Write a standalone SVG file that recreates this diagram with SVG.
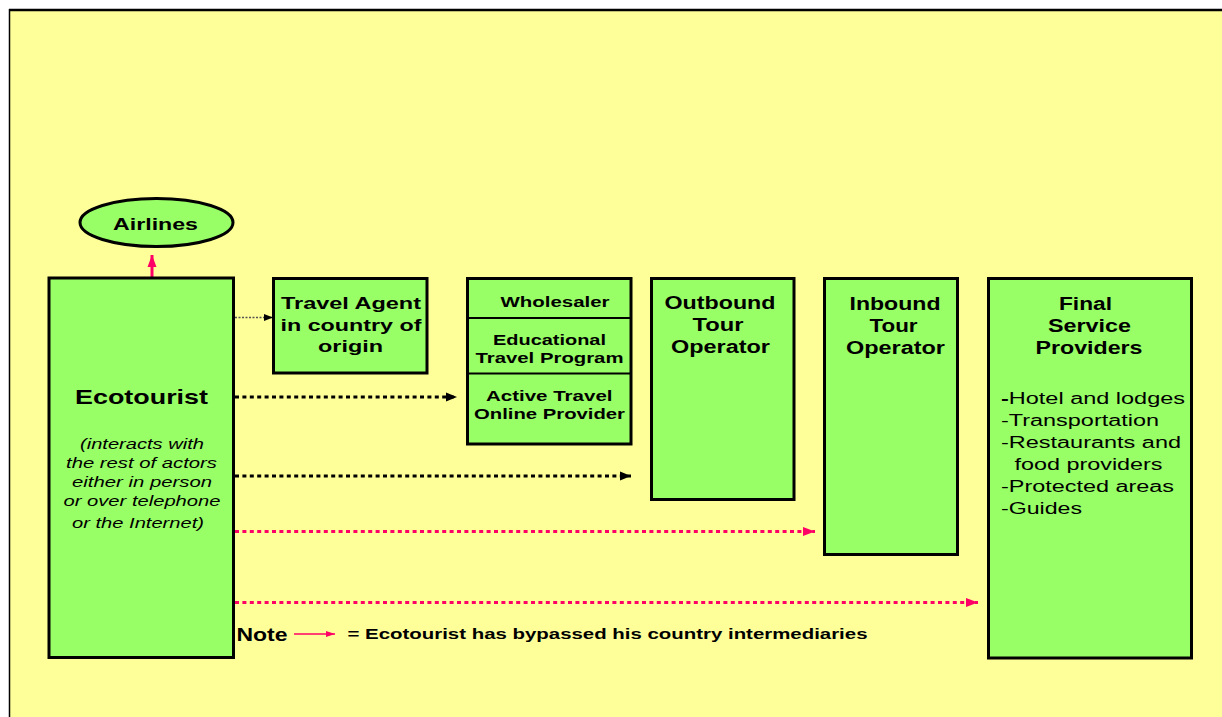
<svg xmlns="http://www.w3.org/2000/svg" width="1222" height="717" viewBox="0 0 1222 717">
<style>
.box{fill:#99FF66;stroke:#000;stroke-width:3}
.div{stroke:#000;stroke-width:2}
.b{font-family:"Liberation Sans",Arial,sans-serif;font-weight:bold;fill:#000}
.r{font-family:"Liberation Sans",Arial,sans-serif;fill:#000}
.i{font-family:"Liberation Sans",Arial,sans-serif;font-style:italic;fill:#000}
.dk{fill:none;stroke:#000;stroke-width:3;stroke-dasharray:4 3.4}
.dp{fill:none;stroke:#FF0066;stroke-width:3;stroke-dasharray:4 3.4}
</style>
<defs>
<marker id="ak" markerUnits="userSpaceOnUse" markerWidth="11" markerHeight="10" refX="11" refY="5" orient="auto"><path d="M0,0.5 L11,5 L0,9.5 z" fill="#000"/></marker>
<marker id="ap" markerUnits="userSpaceOnUse" markerWidth="12" markerHeight="10" refX="12" refY="5" orient="auto"><path d="M0,0.5 L12,5 L0,9.5 z" fill="#FF0066"/></marker>
<marker id="aks" markerUnits="userSpaceOnUse" markerWidth="9" markerHeight="8" refX="9" refY="4" orient="auto"><path d="M0,0.5 L9,4 L0,7.5 z" fill="#000"/></marker>
<marker id="aps" markerUnits="userSpaceOnUse" markerWidth="9" markerHeight="8" refX="9" refY="4" orient="auto"><path d="M0,1 L9,4 L0,7 z" fill="#FF0066"/></marker>
</defs>
<rect x="0" y="0" width="1222" height="717" fill="#fff"/>
<rect x="9.5" y="10" width="1230" height="720" fill="#FFFF99"/>
<line x1="9" y1="10" x2="1222" y2="10" stroke="#000" stroke-width="2.5"/>
<line x1="9.5" y1="9" x2="9.5" y2="717" stroke="#000" stroke-width="1.5"/>

<g id="connectors">
<line x1="152" y1="278" x2="152" y2="255" stroke="#FF0066" stroke-width="3" marker-end="url(#ap)"/>
<line x1="235" y1="317.5" x2="273" y2="317.5" stroke="#555" stroke-width="1.5" stroke-dasharray="2 1.5" marker-end="url(#aks)"/>
<line x1="235" y1="397" x2="457" y2="397" class="dk" marker-end="url(#ak)"/>
<line x1="235" y1="476" x2="631" y2="476" class="dk" marker-end="url(#ak)"/>
<line x1="235" y1="531.5" x2="815" y2="531.5" class="dp" marker-end="url(#ap)"/>
<line x1="235" y1="602.5" x2="978" y2="602.5" class="dp" marker-end="url(#ap)"/>
</g>

<g id="airlines">
<ellipse cx="156.5" cy="222.5" rx="76.5" ry="24" class="box"/>
<text x="113" y="230" class="b" font-size="17" textLength="85" lengthAdjust="spacingAndGlyphs">Airlines</text>
</g>

<g id="ecotourist">
<rect x="49" y="278" width="184.5" height="379.5" class="box"/>
<text x="75" y="404" class="b" font-size="21" textLength="133" lengthAdjust="spacingAndGlyphs">Ecotourist</text>
<text x="80" y="449" class="i" font-size="15" textLength="124" lengthAdjust="spacingAndGlyphs">(interacts with</text>
<text x="66" y="468" class="i" font-size="15" textLength="151" lengthAdjust="spacingAndGlyphs">the rest of actors</text>
<text x="72" y="487" class="i" font-size="15" textLength="140" lengthAdjust="spacingAndGlyphs">either in person</text>
<text x="63.5" y="506" class="i" font-size="15" textLength="157" lengthAdjust="spacingAndGlyphs">or over telephone</text>
<text x="72" y="527.5" class="i" font-size="15" textLength="132" lengthAdjust="spacingAndGlyphs">or the Internet)</text>
</g>

<g id="travel-agent">
<rect x="273.5" y="278.5" width="153.5" height="94.5" class="box"/>
<text x="281" y="309" class="b" font-size="17" textLength="140" lengthAdjust="spacingAndGlyphs">Travel Agent</text>
<text x="280.5" y="331" class="b" font-size="17" textLength="141" lengthAdjust="spacingAndGlyphs">in country of</text>
<text x="318" y="352" class="b" font-size="17" textLength="65" lengthAdjust="spacingAndGlyphs">origin</text>
</g>

<g id="intermediaries">
<rect x="467.5" y="278.5" width="163.5" height="165.5" class="box"/>
<line x1="467.5" y1="318" x2="631" y2="318" class="div"/>
<line x1="467.5" y1="373.5" x2="631" y2="373.5" class="div"/>
<text x="500.5" y="307" class="b" font-size="14.5" textLength="109" lengthAdjust="spacingAndGlyphs">Wholesaler</text>
<text x="493" y="345" class="b" font-size="15.5" textLength="113" lengthAdjust="spacingAndGlyphs">Educational</text>
<text x="475.5" y="363" class="b" font-size="15.5" textLength="148" lengthAdjust="spacingAndGlyphs">Travel Program</text>
<text x="486" y="400.5" class="b" font-size="15.5" textLength="126.5" lengthAdjust="spacingAndGlyphs">Active Travel</text>
<text x="474" y="418.5" class="b" font-size="15.5" textLength="151" lengthAdjust="spacingAndGlyphs">Online Provider</text>
</g>

<g id="outbound">
<rect x="651.5" y="278.5" width="142.5" height="221" class="box"/>
<text x="664.5" y="309" class="b" font-size="18" textLength="111" lengthAdjust="spacingAndGlyphs">Outbound</text>
<text x="692.5" y="331" class="b" font-size="18" textLength="51" lengthAdjust="spacingAndGlyphs">Tour</text>
<text x="671" y="353" class="b" font-size="18" textLength="99" lengthAdjust="spacingAndGlyphs">Operator</text>
</g>

<g id="inbound">
<rect x="824.5" y="278.5" width="133" height="276" class="box"/>
<text x="849.5" y="310" class="b" font-size="18" textLength="91" lengthAdjust="spacingAndGlyphs">Inbound</text>
<text x="869.5" y="332" class="b" font-size="18" textLength="48" lengthAdjust="spacingAndGlyphs">Tour</text>
<text x="846" y="354" class="b" font-size="18" textLength="99" lengthAdjust="spacingAndGlyphs">Operator</text>
</g>

<g id="final-providers">
<rect x="988.5" y="278.5" width="203" height="379.5" class="box"/>
<text x="1059" y="310" class="b" font-size="18" textLength="53" lengthAdjust="spacingAndGlyphs">Final</text>
<text x="1048" y="332" class="b" font-size="18" textLength="83" lengthAdjust="spacingAndGlyphs">Service</text>
<text x="1035.5" y="354" class="b" font-size="18" textLength="107" lengthAdjust="spacingAndGlyphs">Providers</text>
<text x="1001" y="403.5" class="r" font-size="16" textLength="184" lengthAdjust="spacingAndGlyphs"><tspan font-weight="bold">-</tspan>Hotel and lodges</text>
<text x="1001" y="425.5" class="r" font-size="16" textLength="158" lengthAdjust="spacingAndGlyphs">-Transportation</text>
<text x="1001" y="447.5" class="r" font-size="16" textLength="180" lengthAdjust="spacingAndGlyphs">-Restaurants and</text>
<text x="1014.5" y="470" class="r" font-size="16" textLength="148" lengthAdjust="spacingAndGlyphs">food providers</text>
<text x="1001" y="491.5" class="r" font-size="16" textLength="173" lengthAdjust="spacingAndGlyphs">-Protected areas</text>
<text x="1001" y="514" class="r" font-size="16" textLength="81" lengthAdjust="spacingAndGlyphs">-Guides</text>
</g>

<g id="note">
<text x="236.5" y="640.5" class="b" font-size="18" textLength="51" lengthAdjust="spacingAndGlyphs">Note</text>
<line x1="294" y1="634" x2="335" y2="634" stroke="#FF0066" stroke-width="1.5" marker-end="url(#aps)"/>
<text x="347.5" y="638.5" class="b" font-size="15" textLength="520" lengthAdjust="spacingAndGlyphs">= Ecotourist has bypassed his country intermediaries</text>
</g>
</svg>
